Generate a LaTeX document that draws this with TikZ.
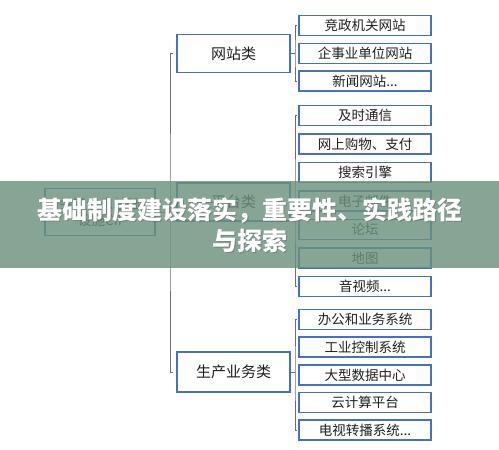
\documentclass[tikz,border=0pt]{standalone}
\usepackage{fontspec}
\usepackage{tikz}
\newfontfamily\cjk{Noto Sans CJK SC}
\definecolor{boxblue}{RGB}{70,112,192}
\definecolor{linegray}{RGB}{110,110,110}
\definecolor{bandgreen}{RGB}{108,146,126}
\tikzset{
	leafbox/.style={draw=boxblue, line width=1.7pt, fill=white, inner sep=0pt,
		minimum width=132pt, minimum height=20pt, text=black!88,
		font=\cjk\fontsize{13.5}{15}\selectfont},
	groupbox/.style={leafbox, minimum width=113pt, minimum height=38pt,
		font=\cjk\fontsize{15}{17}\selectfont},
	rootbox/.style={leafbox, minimum width=110pt, minimum height=47pt, align=center,
		font=\cjk\fontsize{13.5}{16}\selectfont},
	link/.style={draw=linegray, line width=1pt},
	titletext/.style={text=white, font=\cjk\bfseries\fontsize{25}{30}\selectfont}
}

\begin{document}
\begin{tikzpicture}[x=1pt,y=-1pt]
		\useasboundingbox (0,0) rectangle (499,450);
		\fill[white] (0,0) rectangle (499,450);
		\begin{scope}
			% main groups
			\node[rootbox] (cii) at (100,212) {关键信息基础\\设施CII};
			\node[groupbox] (web) at (233.5,53.5) {网站类};
			\node[groupbox] (plat) at (233.5,202) {平台类};
			\node[groupbox, minimum height=40pt] (prod) at (233.5,372) {生产业务类};
		
			% websites
			\node[leafbox] (w1) at (365,25.5) {竞政机关网站};
			\node[leafbox] (w2) at (365,53.5) {企事业单位网站};
			\node[leafbox] (w3) at (365,81) {新闻网站...};
		
			% platforms
			\node[leafbox] (p1) at (365,115.5) {及时通信};
			\node[leafbox] (p2) at (365,144) {网上购物、支付};
			\node[leafbox] (p3) at (365,172.5) {搜索引擎};
			\node[leafbox] (p4) at (365,201) {电子邮件};
			\node[leafbox] (p5) at (365,229.5) {论坛};
			\node[leafbox] (p6) at (365,258) {地图};
			\node[leafbox] (p7) at (365,286.5) {音视频...};
		
			% production systems
			\node[leafbox] (s1) at (365,319.5) {办公和业务系统};
			\node[leafbox] (s2) at (365,347.2) {工业控制系统};
			\node[leafbox] (s3) at (365,374.9) {大型数据中心};
			\node[leafbox] (s4) at (365,402.6) {云计算平台};
			\node[leafbox] (s5) at (365,430.3) {电视转播系统...};
		
			% brackets
			\coordinate (trunk) at (170,212);
			\coordinate (bw) at (295,53.5);
			\coordinate (bp) at (295,202);
			\coordinate (bs) at (295,372);
		
			\draw[link, shorten <=3pt, shorten >=3pt] (web.west) -| (trunk) |- (prod.west);
			\draw[link] (cii.east) to (trunk);
			\draw[link, shorten <=1pt, shorten >=1pt] (w1.west) -| (bw) |- (w3.west);
			\draw[link] (web.east) to (bw);
			\draw[link, shorten <=1pt, shorten >=1pt] (p1.west) -| (bp) |- (p7.west);
			\draw[link] (plat.east) to (bp);
			\draw[link, shorten <=1pt, shorten >=1pt] (s1.west) -| (bs) |- (s5.west);
			\draw[link] (prod.east) to (bs);
		\end{scope}
		
		% title band
		\fill[bandgreen, opacity=0.82] (0,181) rectangle (499,268);
		\node[titletext, text=black!60, opacity=0.5] at (250.8,211.8) {基础制度建设落实，重要性、实践路径};
		\node[titletext, text=black!60, opacity=0.5] at (250.8,241.8) {与探索};
		\node[titletext] (t1) at (250,211) {基础制度建设落实，重要性、实践路径};
		\node[titletext] (t2) at (250,241) {与探索};
	\end{tikzpicture}
\end{document}
